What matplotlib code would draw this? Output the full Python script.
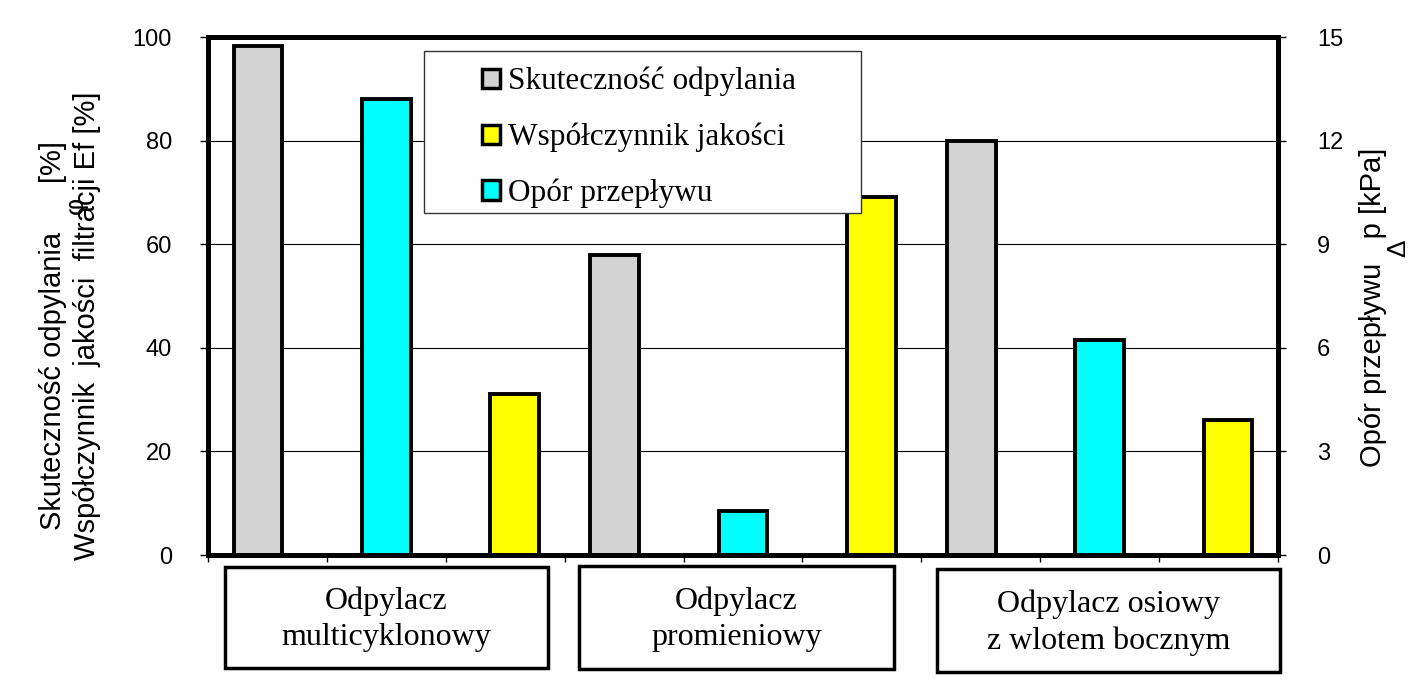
import matplotlib
matplotlib.use("Agg")
import matplotlib.pyplot as plt
from matplotlib.patches import Patch, Rectangle

# data
groups = ['Odpylacz\nmulticyklonowy', 'Odpylacz\npromieniowy', 'Odpylacz osiowy\nz wlotem bocznym']
skutecznosc = [98.3, 58.0, 80.0]      # left axis, %
wspolczynnik = [31.0, 69.2, 26.0]     # left axis, %
opor = [13.2, 1.27, 6.24]             # right axis, kPa

grey, yellow, cyan = '#d3d3d3', '#ffff00', '#00ffff'
serif = 'Liberation Serif'
sans = 'Liberation Sans'

W, H = 1428, 695
def fx(x): return x / W
def fy(y): return 1 - y / H

fig = plt.figure(figsize=(W / 100, H / 100), dpi=100, facecolor='white')
ax1 = fig.add_axes([fx(208), fy(555), (1278 - 208) / W, (555 - 37) / H])
ax2 = ax1.twinx()

# each group takes three category slots: grey, cyan, yellow
pos_s = [3 * i - 0.08 for i in range(len(groups))]
pos_o = [3 * i + 1 for i in range(len(groups))]
pos_w = [3 * i + 2 + 0.08 for i in range(len(groups))]
bw = 0.41
ekw = dict(edgecolor='black', linewidth=2.8)

ax1.bar(pos_s, skutecznosc, bw, color=grey, zorder=3, **ekw)
ax1.bar(pos_w, wspolczynnik, bw, color=yellow, zorder=3, **ekw)
ax2.bar(pos_o, opor, bw, color=cyan, zorder=3, **ekw)

ax1.set_xlim(-0.5, 8.5)
ax1.set_ylim(0, 100)
ax2.set_ylim(0, 15)
ax1.set_yticks(range(0, 101, 20))
ax2.set_yticks(range(0, 16, 3))
ax1.set_xticks([k - 0.5 for k in range(10)])
ax1.set_xticklabels([])

ax1.set_axisbelow(True)
ax1.yaxis.grid(True, color='black', linewidth=0.8)
for ax in (ax1, ax2):
    for s in ax.spines.values():
        s.set_linewidth(3.6)
ax1.tick_params(axis='y', length=6, width=1, pad=20, labelsize=17)
ax2.tick_params(axis='y', length=6, width=1, pad=22, labelsize=17)
ax1.tick_params(axis='x', length=5, width=1, direction='out')
for lab in ax1.get_yticklabels() + ax2.get_yticklabels():
    lab.set_fontfamily(sans)

# axis titles
fig.text(fx(53), fy(336), 'Skuteczność odpylania      [%]', rotation=90,
         ha='center', va='center', fontsize=21, family=sans)
fig.text(fx(76), fy(205), 'φ', rotation=90, ha='center', va='center',
         fontsize=19, family=sans)
fig.text(fx(87), fy(326), 'Współczynnik  jakości  filtracji Ef [%]', rotation=90,
         ha='center', va='center', fontsize=21, family=sans)
fig.text(fx(1373), fy(307), 'Opór przepływu   p [kPa]', rotation=90,
         ha='center', va='center', fontsize=21, family=sans)
fig.text(fx(1398), fy(248), 'Δ', rotation=90, ha='center', va='center',
         fontsize=19, family=sans)

# legend
handles = [Patch(facecolor=grey, edgecolor='black', linewidth=2.5),
           Patch(facecolor=yellow, edgecolor='black', linewidth=2.5),
           Patch(facecolor=cyan, edgecolor='black', linewidth=2.5)]
labels = ['Skuteczność odpylania', 'Współczynnik jakości', 'Opór przepływu']
ax2.add_patch(Rectangle((fx(424), fy(213)), (861 - 424) / W, (213 - 51) / H,
                        transform=fig.transFigure, facecolor='white',
                        edgecolor='#333333', linewidth=1.0, zorder=6, clip_on=False))
leg = ax2.legend(handles, labels, loc='upper left', bbox_to_anchor=(fx(482), fy(67)),
                 bbox_transform=fig.transFigure, frameon=False, borderpad=0,
                 borderaxespad=0, handlelength=0.58, handleheight=0.58,
                 handletextpad=0.25, labelspacing=0.84,
                 prop={'family': serif, 'size': 22.5})
leg.set_zorder(7)

# category boxes under the axis
boxes = [(225, 567, 548, 668), (579, 566, 894, 669), (937, 569, 1280, 672)]
for (x0, y0, x1, y1), name in zip(boxes, groups):
    fig.patches.append(Rectangle((fx(x0), fy(y1)), (x1 - x0) / W, (y1 - y0) / H,
                                 transform=fig.transFigure, facecolor='white',
                                 edgecolor='black', linewidth=2.5))
    fig.text(fx((x0 + x1) / 2), fy((y0 + y1) / 2 + 2), name, ha='center', va='center',
             fontsize=23, family=serif, linespacing=1.32)

fig.savefig('out.png', dpi=100, facecolor='white')
